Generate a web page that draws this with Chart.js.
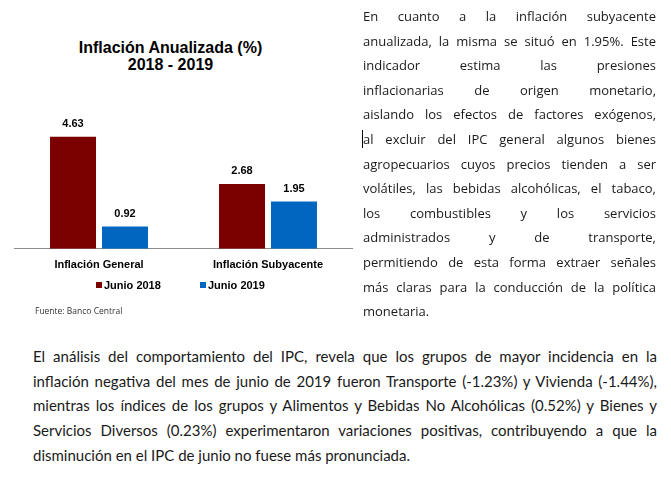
<!DOCTYPE html>
<html>
<head>
<meta charset="utf-8">
<script src="https://cdn.jsdelivr.net/npm/chart.js@4"></script>
<style>
  body { margin: 0; background: #fff; width: 671px; height: 486px; overflow: hidden; position: relative; }
  #chartBox { position: absolute; left: 0; top: 0; width: 367px; height: 282px; }
  #titulo { position: absolute; left: 0; top: 39px; width: 341px; text-align: center;
    font: bold 16px "Liberation Sans", Arial, sans-serif; line-height: 17px; color: #000; }
  .leyenda { position: absolute; top: 278px; font: bold 11px "Liberation Sans", Arial, sans-serif; color: #000; line-height: 14px; }
  .leyenda i { display: inline-block; width: 6px; height: 6px; margin-right: 2px; vertical-align: 1px; }
  #fuente { position: absolute; left: 35px; top: 305px; font: 8.5px "Open Sans", sans-serif; color: #333; }
  #derecha { position: absolute; left: 363px; top: 4px; width: 293px; font: 13px "Open Sans", sans-serif; line-height: 24.6px; color: #1a1a1a; }
  #abajo { position: absolute; left: 33px; top: 344px; width: 624px; font: 15px Lato, sans-serif; line-height: 24.7px; color: #1a1a1a; }
  .l { text-align: justify; text-align-last: justify; white-space: nowrap; }
  .u { text-align: left; white-space: nowrap; }
  .cursor { border-left: 1px solid #000; margin-left: -1px; }
</style>
</head>
<body>
<div id="titulo">Inflación Anualizada (%)<br>2018 - 2019</div>
<div id="chartBox"><canvas id="barChart"></canvas></div>
<div class="leyenda" id="ley0" style="left:96px"></div>
<div class="leyenda" id="ley1" style="left:200px"></div>
<div id="fuente">Fuente: Banco Central</div>

<div id="derecha">
  <div class="l">En cuanto a la inflación subyacente</div>
  <div class="l">anualizada, la misma se situó en 1.95%. Este</div>
  <div class="l">indicador estima las presiones</div>
  <div class="l">inflacionarias de origen monetario,</div>
  <div class="l">aislando los efectos de factores exógenos,</div>
  <div class="l"><span class="cursor">a</span>l excluir del IPC general algunos bienes</div>
  <div class="l">agropecuarios cuyos precios tienden a ser</div>
  <div class="l">volátiles, las bebidas alcohólicas, el tabaco,</div>
  <div class="l">los combustibles y los servicios</div>
  <div class="l">administrados y de transporte,</div>
  <div class="l">permitiendo de esta forma extraer señales</div>
  <div class="l">más claras para la conducción de la política</div>
  <div class="u">monetaria.</div>
</div>

<div id="abajo">
  <div class="l">El análisis del comportamiento del IPC, revela que los grupos de mayor incidencia en la</div>
  <div class="l">inflación negativa del mes de junio de 2019 fueron Transporte (-1.23%) y Vivienda (-1.44%),</div>
  <div class="l">mientras los índices de los grupos y Alimentos y Bebidas No Alcohólicas (0.52%) y Bienes y</div>
  <div class="l">Servicios Diversos (0.23%) experimentaron variaciones positivas, contribuyendo a que la</div>
  <div class="u">disminución en el IPC de junio no fuese más pronunciada.</div>
</div>

<script>
var categorias = ["Inflación General", "Inflación Subyacente"];
var series = ["Junio 2018", "Junio 2019"];
var junio2018 = [4.63, 2.68];
var junio2019 = [0.92, 1.95];
var colores = ["#7b0000", "#0066c0"];

// leyenda en html
series.forEach(function (s, i) {
  document.getElementById("ley" + i).innerHTML =
    '<i style="background:' + colores[i] + '"></i>' + s;
});

// etiquetas de valor encima de cada barra
const etiquetas = {
  id: "etiquetas",
  afterDatasetsDraw(chart) {
    const ctx = chart.ctx;
    ctx.save();
    ctx.font = "bold 11px 'Liberation Sans', Arial, sans-serif";
    ctx.fillStyle = "#000";
    ctx.textAlign = "center";
    ctx.textBaseline = "middle";
    chart.data.datasets.forEach(function (ds, i) {
      chart.getDatasetMeta(i).data.forEach(function (bar, j) {
        ctx.fillText(ds.data[j].toFixed(2), bar.x, bar.y - 12.5);
      });
    });
    ctx.restore();
  },
};

new Chart(document.getElementById("barChart"), {
  type: "bar",
  data: {
    labels: categorias,
    datasets: [
      { label: series[0], data: junio2018, backgroundColor: colores[0] },
      { label: series[1], data: junio2019, backgroundColor: colores[1] },
    ],
  },
  options: {
    responsive: true,
    maintainAspectRatio: false,
    animation: false,
    categoryPercentage: 0.615,
    barPercentage: 0.885,
    layout: { padding: { left: 14.5, right: 14.5, top: 103.5, bottom: 0 } },
    plugins: { legend: { display: false }, title: { display: false }, tooltip: { enabled: false } },
    scales: {
      y: { display: false, min: 0, max: 6 },
      x: {
        grid: { display: false, drawTicks: false },
        border: { display: true, color: "#8c8c8c", width: 1 },
        ticks: {
          color: "#000",
          padding: 10,
          font: { family: "'Liberation Sans', Arial, sans-serif", size: 11, weight: "bold" },
        },
      },
    },
  },
  plugins: [etiquetas],
});
</script>
</body>
</html>
